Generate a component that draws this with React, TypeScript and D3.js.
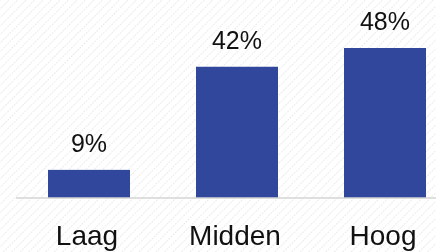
import * as d3 from 'd3';

const categories = ['Laag', 'Midden', 'Hoog'];
const values = [9, 42, 48];
const valueLabels = ['9%', '42%', '48%'];

const width = 436;
const height = 252;
const baseline = 198;

export default function App() {
  const x = d3.scaleBand<string>()
    .domain(categories)
    .range([15, 459])
    .paddingInner(0.446)
    .paddingOuter(0.223);

  const y = d3.scaleLinear().domain([0, 48]).range([baseline, 48]);

  return (
    <svg
      width={width}
      height={height}
      style={{ position: 'fixed', left: 0, top: 0, display: 'block' }}
      fontFamily="Liberation Sans, Arial, sans-serif"
    >
      <defs>
        <pattern id="hatch" width="6" height="6" patternUnits="userSpaceOnUse" patternTransform="rotate(45)">
          <rect width="6" height="6" fill="#ffffff" />
          <line x1="0" y1="0" x2="0" y2="6" stroke="#ebebeb" strokeWidth="2" strokeDasharray="2 1" />
        </pattern>
      </defs>
      <rect width={width} height={height} fill="url(#hatch)" />

      {categories.map((c, i) => (
        <rect
          key={c}
          x={x(c)}
          y={y(values[i])}
          width={x.bandwidth()}
          height={baseline - y(values[i])}
          fill="#31479b"
        />
      ))}

      <line x1={16} x2={width} y1={baseline} y2={baseline} stroke="#d4d4d4" strokeWidth={1.5} />

      {categories.map((c, i) => (
        <text
          key={'v' + c}
          x={(x(c) || 0) + x.bandwidth() / 2}
          y={y(values[i]) - 18}
          textAnchor="middle"
          fontSize={25}
          fill="#111"
        >
          {valueLabels[i]}
        </text>
      ))}

      {categories.map((c) => (
        <text
          key={'c' + c}
          x={(x(c) || 0) + x.bandwidth() / 2 - 2}
          y={245}
          textAnchor="middle"
          fontSize={28}
          fill="#111"
        >
          {c}
        </text>
      ))}
    </svg>
  );
}
